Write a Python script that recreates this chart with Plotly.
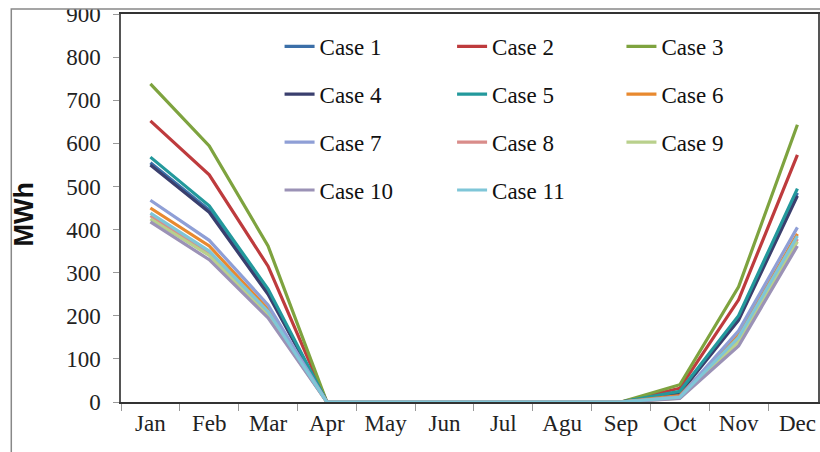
import plotly.graph_objects as go

months = ["Jan", "Feb", "Mar", "Apr", "May", "Jun", "Jul", "Agu", "Sep", "Oct", "Nov", "Dec"]

case_names = ["Case 1", "Case 2", "Case 3", "Case 4", "Case 5", "Case 6",
              "Case 7", "Case 8", "Case 9", "Case 10", "Case 11"]

case1 = [555, 445, 255, 0, 0, 0, 0, 0, 0, 22, 195, 485]
case2 = [652, 527, 315, 0, 0, 0, 0, 0, 0, 32, 237, 573]
case3 = [738, 594, 362, 0, 0, 0, 0, 0, 0, 40, 267, 643]
case4 = [550, 440, 250, 0, 0, 0, 0, 0, 0, 20, 190, 478]
case5 = [568, 455, 262, 0, 0, 0, 0, 0, 0, 25, 200, 495]
case6 = [450, 362, 215, 0, 0, 0, 0, 0, 0, 15, 155, 390]
case7 = [468, 375, 225, 0, 0, 0, 0, 0, 0, 12, 165, 405]
case8 = [432, 345, 205, 0, 0, 0, 0, 0, 0, 10, 145, 378]
case9 = [425, 340, 200, 0, 0, 0, 0, 0, 0, 9, 140, 372]
case10 = [418, 330, 195, 0, 0, 0, 0, 0, 0, 8, 130, 362]
case11 = [438, 350, 210, 0, 0, 0, 0, 0, 0, 11, 150, 385]

series = [case1, case2, case3, case4, case5, case6, case7, case8, case9, case10, case11]
colors = ["#3b6fa8", "#be3b3d", "#7ea33f", "#3a3f6e", "#23999c", "#e8892f",
          "#8f9fd6", "#d98c8a", "#b9d08c", "#9b92b6", "#7fc6d8"]

# legend column for each case (3 columns, row-major like the reference)
legend_keys = ["legend", "legend2", "legend3"] * 4

fig = go.Figure()
for i, (name, vals, col) in enumerate(zip(case_names, series, colors)):
    fig.add_trace(go.Scatter(x=months, y=vals, name=name, mode="lines",
                             line=dict(color=col, width=3.2),
                             legend=legend_keys[i], legendgroup=name))

tick_font = dict(family="Liberation Serif", size=23, color="#222")
legend_font = dict(family="Liberation Serif", size=23, color="#111")

def leg(x):
    return dict(x=x, y=0.972, xref="paper", yref="paper", xanchor="left", yanchor="top",
                orientation="v", traceorder="grouped", tracegroupgap=15,
                bgcolor="rgba(0,0,0,0)", font=legend_font, borderwidth=0)

fig.update_layout(
    width=820, height=452,
    margin=dict(l=121, r=0, t=14, b=50),
    paper_bgcolor="white", plot_bgcolor="white",
    showlegend=True,
    legend=leg(0.2275),
    legend2=leg(0.475),
    legend3=leg(0.718),
    xaxis=dict(type="category", range=[-0.5, 11.35], tickson="boundaries",
               ticks="outside", ticklen=7, tickcolor="#999", showgrid=False,
               showline=True, linecolor="#333", linewidth=1.5, mirror=True,
               tickfont=tick_font, zeroline=False),
    yaxis=dict(range=[0, 900], dtick=100, ticks="outside", ticklen=6, tickcolor="#999",
               ticklabelstandoff=8,
               showgrid=False, showline=True, linecolor="#555", linewidth=1.5, mirror=True,
               tickfont=tick_font, zeroline=False),
    annotations=[dict(text="<b>MWh</b>", xref="paper", yref="paper", x=0, y=0.483,
                      xanchor="center", yanchor="middle", xshift=-97, textangle=-90,
                      showarrow=False,
                      font=dict(family="Liberation Sans", size=27, color="#111"))],
    shapes=[
        dict(type="rect", xref="paper", yref="paper", x0=-0.2, x1=1.05, y0=1.0129, y1=1.2,
             line=dict(width=0), fillcolor="white", layer="above"),
        dict(type="rect", xref="paper", yref="paper", x0=-0.1574, y0=-0.3,
             x1=1.05, y1=1.0129, line=dict(color="#888", width=1.5), layer="above"),
    ],
)

fig.write_html("out.html", config={"displayModeBar": False},
               post_script="document.body.style.margin='0';")
